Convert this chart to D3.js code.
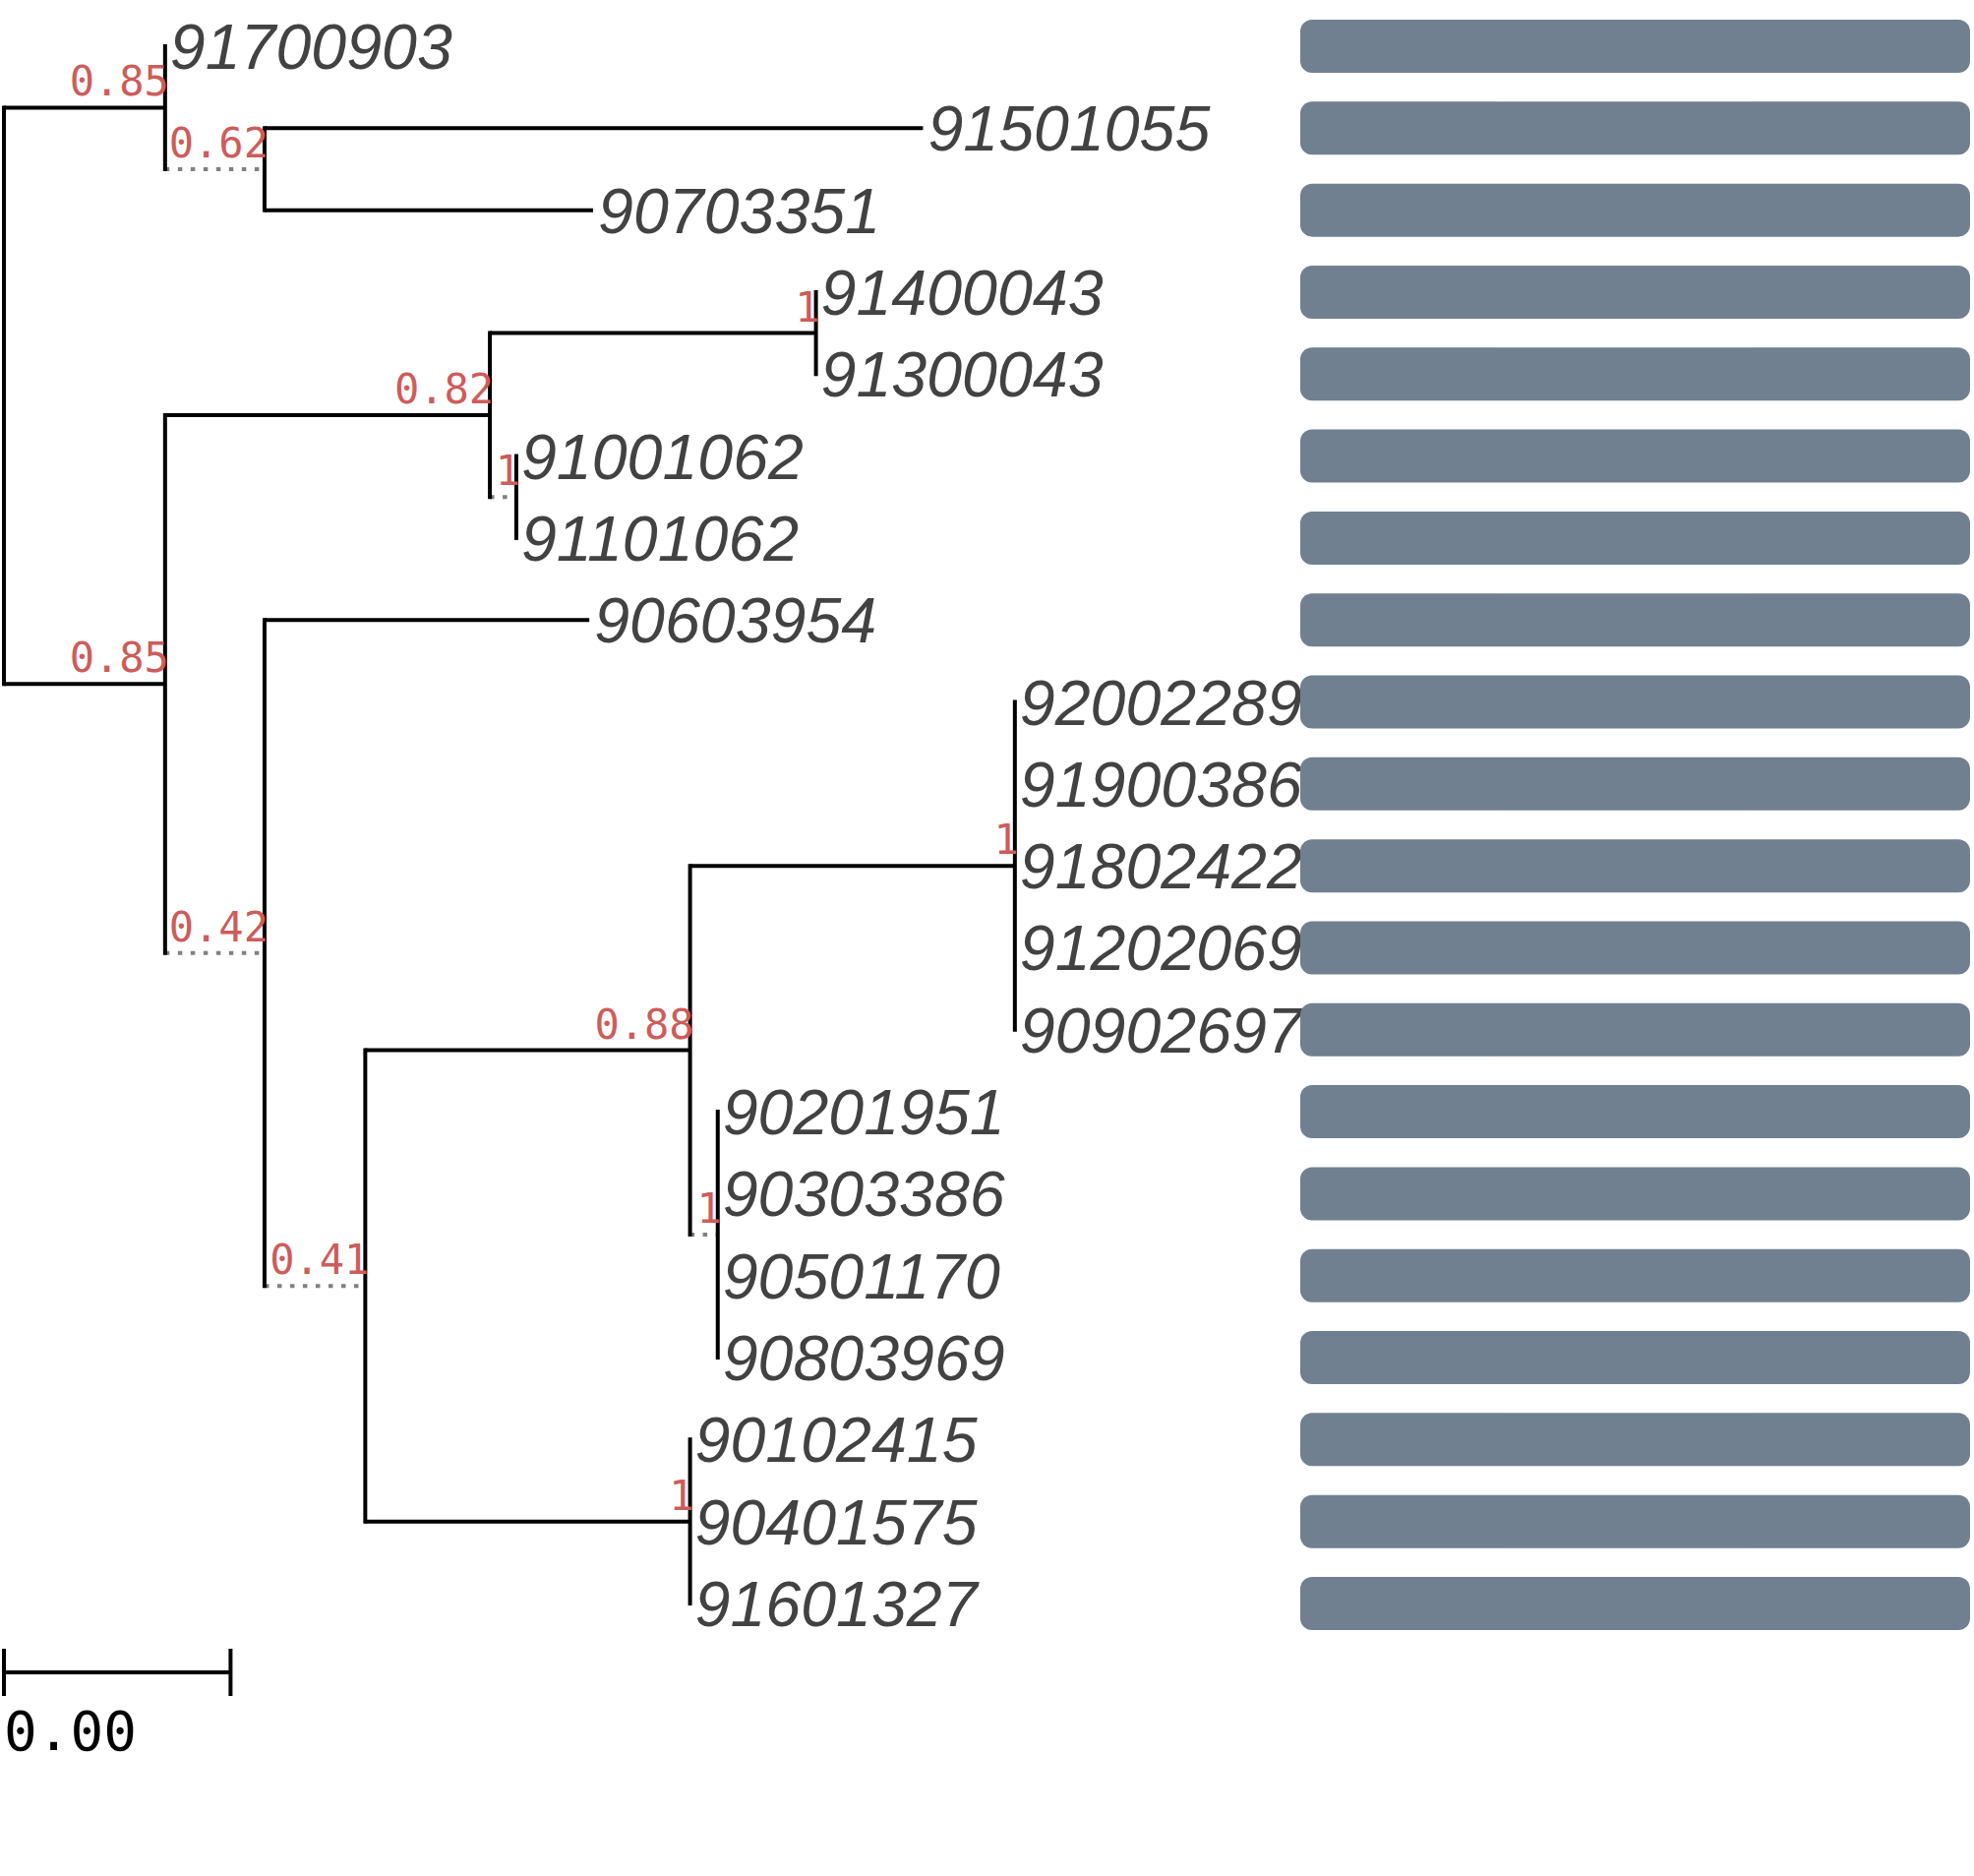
<!DOCTYPE html>
<html>
<head>
<meta charset="utf-8">
<script src="https://cdn.jsdelivr.net/npm/d3@7"></script>
<style>
  body { margin: 0; background: #fff; }
  svg { display: block; }
</style>
</head>
<body>
<div id="chart"></div>
<script>
// tree as a parent table: node id, parent id, branch length, support
const nodeIds = ["root", "A", "91700903", "B", "91501055", "90703351",
  "C", "D", "E", "91400043", "91300043", "F", "91001062", "91101062",
  "G", "90603954", "H", "I", "J", "92002289", "91900386", "91802422", "91202069", "90902697",
  "K", "90201951", "90303386", "90501170", "90803969",
  "L", "90102415", "90401575", "91601327"];
const parentIds = ["", "root", "A", "A", "B", "B",
  "root", "C", "D", "E", "E", "D", "F", "F",
  "C", "G", "G", "H", "I", "J", "J", "J", "J", "J",
  "I", "K", "K", "K", "K",
  "H", "L", "L", "L"];
const branchLengths = [0, 0.00128, 0, 0.00079, 0.00523, 0.00261,
  0.00128, 0.00258, 0.00259, 0, 0, 0.00021, 0, 0,
  0.00079, 0.00258, 0.00080, 0.00258, 0.00258, 0, 0, 0, 0, 0,
  0.00022, 0, 0, 0, 0,
  0.00258, 0, 0, 0];
const support = [null, 0.85, null, 0.62, null, null,
  0.85, 0.82, 1, null, null, 1, null, null,
  0.42, null, 0.41, 0.88, 1, null, null, null, null, null,
  1, null, null, null, null,
  1, null, null, null];
// branches drawn as dotted (unresolved) edges
const unresolved = ["B", "F", "G", "H", "K"];

// bar per tip, in tip order
const barValues = [1, 1, 1, 1, 1, 1, 1, 1, 1, 1, 1, 1, 1, 1, 1, 1, 1, 1, 1, 1];

const scaleBarLength = 0.0018;

const W = 2007, H = 1907;

const svg = d3.select("#chart").append("svg")
    .attr("width", W)
    .attr("height", H);

const table = nodeIds.map((id, i) => ({
    id: id,
    parent: parentIds[i] || null,
    length: branchLengths[i],
    support: support[i],
    dotted: unresolved.includes(id)
}));

const root = d3.stratify()
    .id(d => d.id)
    .parentId(d => d.parent)(table);

// cumulative distance from root
root.eachBefore(n => {
    n.dist = n.parent ? n.parent.dist + n.data.length : 0;
});

const leaves = root.leaves();
const x = d3.scaleLinear().domain([0, scaleBarLength]).range([4, 234.4]);
const y = d3.scaleLinear().domain([0, leaves.length - 1]).range([47, 1630]);

leaves.forEach((l, i) => { l.row = i; });
root.eachAfter(n => {
    if (n.children) n.row = d3.mean(n.children, c => c.row);
});

const links = root.links();

const tree = svg.append("g").attr("class", "tree");

// horizontal edges
tree.selectAll("line.edge")
    .data(links.filter(l => l.target.data.length > 0))
    .join("line")
    .attr("class", "edge")
    .attr("x1", l => x(l.source.dist))
    .attr("x2", l => x(l.target.dist))
    .attr("y1", l => y(l.target.row))
    .attr("y2", l => y(l.target.row))
    .attr("stroke", l => l.target.data.dotted ? "#808080" : "#000")
    .attr("stroke-width", 4)
    .attr("stroke-dasharray", l => l.target.data.dotted ? "4.5,8.5" : null)
    .attr("stroke-linecap", "butt");

// vertical connectors
const internal = root.descendants().filter(n => n.children);
tree.selectAll("line.vert")
    .data(internal)
    .join("line")
    .attr("class", "vert")
    .attr("x1", n => x(n.dist))
    .attr("x2", n => x(n.dist))
    .attr("y1", n => y(d3.min(n.children, c => c.row)) - 2)
    .attr("y2", n => y(d3.max(n.children, c => c.row)) + 2)
    .attr("stroke", "#000")
    .attr("stroke-width", 4);

// support values
svg.append("g").selectAll("text")
    .data(internal.filter(n => n.data.support != null))
    .join("text")
    .attr("x", n => x(n.dist) + 4)
    .attr("y", n => y(n.row) - 12)
    .attr("text-anchor", "end")
    .attr("font-family", "'DejaVu Sans Mono', monospace")
    .attr("font-size", 42)
    .attr("fill", "#CD5C5C")
    .text(n => String(n.data.support));

// tip labels
svg.append("g").selectAll("text")
    .data(leaves)
    .join("text")
    .attr("x", n => x(n.dist) + 5)
    .attr("y", n => y(n.row) + 23)
    .attr("font-family", "'Liberation Sans', Arial, sans-serif")
    .attr("font-style", "italic")
    .attr("font-size", 64.5)
    .attr("fill", "#424242")
    .text(n => n.id);

// bars beside the tips
const xb = d3.scaleLinear().domain([0, 1]).range([1322, 2003]);
svg.append("g").selectAll("rect")
    .data(leaves)
    .join("rect")
    .attr("x", xb(0))
    .attr("y", n => y(n.row) - 27)
    .attr("width", (n, i) => xb(barValues[i]) - xb(0))
    .attr("height", 54)
    .attr("rx", 12)
    .attr("fill", "#708090");

// scale bar
const sb = svg.append("g").attr("class", "scalebar");
const sbY = 1700;
sb.append("line")
    .attr("x1", x(0)).attr("x2", x(scaleBarLength))
    .attr("y1", sbY).attr("y2", sbY)
    .attr("stroke", "#000").attr("stroke-width", 4);
[0, scaleBarLength].forEach(v => {
    sb.append("line")
        .attr("x1", x(v)).attr("x2", x(v))
        .attr("y1", sbY - 24).attr("y2", sbY + 24)
        .attr("stroke", "#000").attr("stroke-width", 4);
});
sb.append("text")
    .attr("x", x(0))
    .attr("y", 1779)
    .attr("font-family", "'DejaVu Sans Mono', monospace")
    .attr("font-size", 56)
    .attr("fill", "#000")
    .text(d3.format(".2f")(scaleBarLength));
</script>
</body>
</html>
